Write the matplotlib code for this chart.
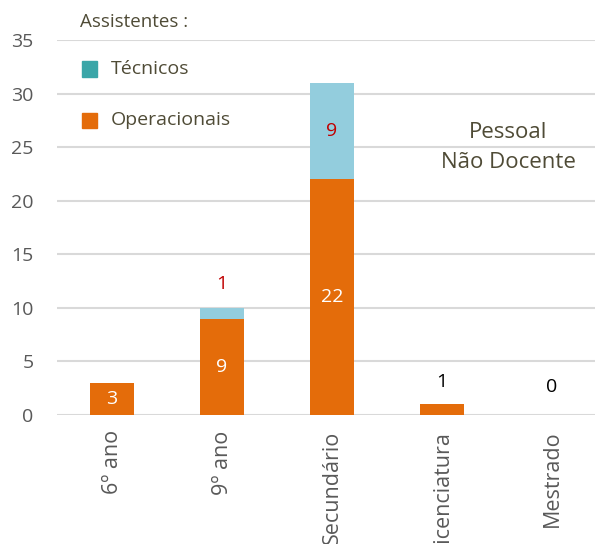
import matplotlib
matplotlib.use("Agg")
from matplotlib import pyplot as plt
from matplotlib.patches import Rectangle

# data
categorias = ['6º ano', '9º ano', 'Secundário', 'Licenciatura', 'Mestrado']
operacionais = [3, 9, 22, 1, 0]
tecnicos = [0, 1, 9, 0, 0]

plt.rcParams['font.family'] = ['Open Sans', 'DejaVu Sans']

laranja = '#e46c0a'
azul = '#93cddd'
azul_legenda = '#3aa6a8'
texto = '#595959'
texto_leg = '#4f4b36'

fig = plt.figure(figsize=(5.95, 5.44), dpi=100)
ax = fig.add_axes([57 / 595, 129 / 544, 550 / 595, 375 / 544])

x = range(len(categorias))
ax.bar(x, operacionais, width=0.4, color=laranja, zorder=3)
ax.bar(x, tecnicos, width=0.4, bottom=operacionais, color=azul, zorder=3)

# data labels
for i, (op, tc) in enumerate(zip(operacionais, tecnicos)):
    if op >= 3:
        ax.text(i, op / 2, str(op), ha='center', va='center', color='white', fontsize=14, zorder=4)
    if tc >= 3:
        ax.text(i, op + tc / 2, str(tc), ha='center', va='center', color='#c00000', fontsize=14, zorder=4)
    elif tc > 0:
        ax.annotate(str(tc), (i, op + tc), xytext=(0, 17), textcoords='offset points',
                    ha='center', va='center', color='#c00000', fontsize=14)
    if tc == 0 and op < 3:
        ax.annotate(str(op), (i, op), xytext=(0, 20 if op == 0 else 16), textcoords='offset points',
                    ha='center', va='center', color='black', fontsize=14)

ax.set_xlim(-0.5, len(categorias) - 0.5)
ax.set_ylim(0, 35)
ax.set_yticks(range(0, 36, 5))
ax.yaxis.grid(True, color='#d9d9d9', linewidth=1.5, zorder=0)
ax.set_axisbelow(True)
for s in ax.spines.values():
    s.set_visible(False)
ax.tick_params(length=0, labelcolor=texto)
ax.tick_params(axis='y', pad=17, labelsize=14)
ax.tick_params(axis='x', pad=11, labelsize=15.5)
ax.set_xticks(list(x))
ax.set_xticklabels(categorias, rotation=90, va='top')

# legend drawn by hand, like the original
fig.text(80 / 595, 1 - 22 / 544, 'Assistentes :', fontsize=13.5, color=texto_leg, va='center')
for yy, cor, nome in [(69, azul_legenda, 'Técnicos'), (120, laranja, 'Operacionais')]:
    fig.patches.append(Rectangle((82 / 595, 1 - (yy + 7.5) / 544), 15 / 595, 15 / 544,
                                 transform=fig.transFigure, color=cor))
    fig.text(111 / 595, 1 - yy / 544, nome, fontsize=14, color=texto_leg, va='center')

fig.text(508 / 595, 1 - 133 / 544, 'Pessoal', fontsize=16, color=texto_leg, ha='center', va='center')
fig.text(508 / 595, 1 - 162 / 544, 'Não Docente', fontsize=16, color=texto_leg, ha='center', va='center')

fig.savefig('out.png', dpi=100)
